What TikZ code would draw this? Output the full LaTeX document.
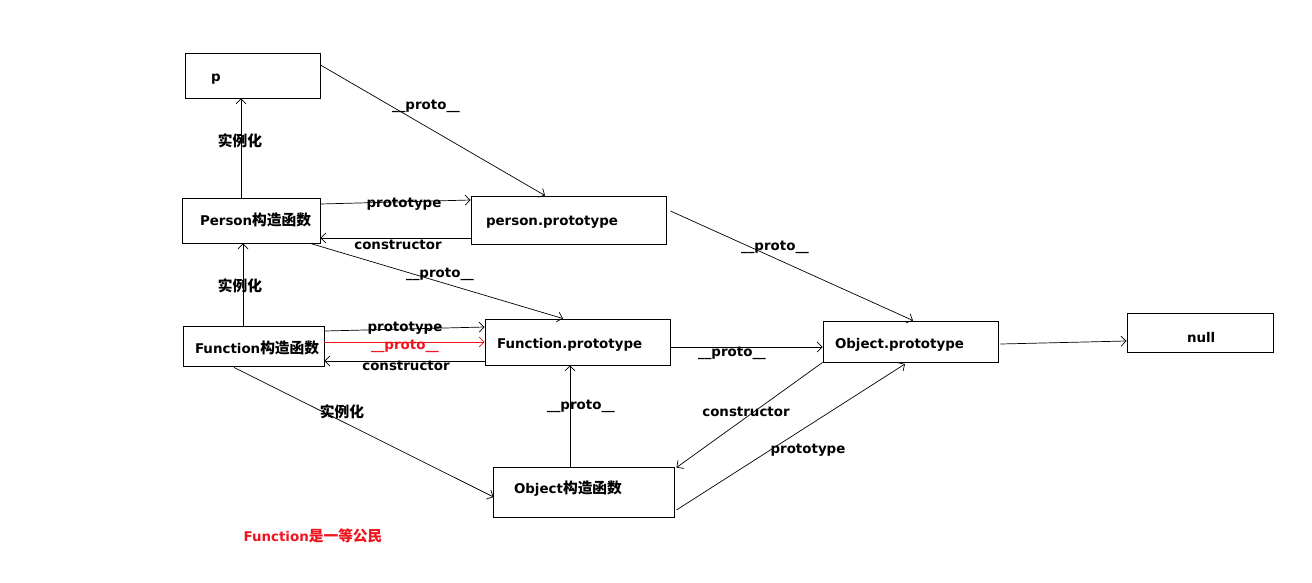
\documentclass[tikz,border=0pt]{standalone}
\usepackage{fontspec}
\setmainfont{DejaVu Sans}
\newfontfamily\cjk{Noto Sans CJK SC}[Scale=1.1]
\newcommand\zh[1]{{\cjk #1}}
\usetikzlibrary{arrows.meta,calc}
\definecolor{myred}{RGB}{240,20,30}
\tikzset{
  box/.style={draw, line width=0.9pt, align=left, inner ysep=0pt, text depth=0pt, font=\fontsize{13.4}{16}\selectfont\bfseries},
  link/.style={line width=0.7pt, -{Straight Barb[length=5pt,width=10pt]}},
  lbl/.style={inner sep=0pt, font=\fontsize{13.4}{16}\selectfont\bfseries},
}
\begin{document}
\begin{tikzpicture}[x=1pt,y=-1pt]
\useasboundingbox (0,0) rectangle (1312,582);
% boxes
\node[box, text width=83pt, inner xsep=26pt, minimum height=45pt, text height=11pt] (p) at (252.5,75.5) {p};
\node[box, text width=102pt, inner xsep=18pt, minimum height=45pt, text height=10.4pt] (per) at (251,220.5) {Person\zh{构造函数}};
\node[box, text width=165pt, inner xsep=15pt, minimum height=48pt, text height=11.4pt] (ppr) at (568.5,220) {person.prototype};
\node[box, text width=117pt, inner xsep=12pt, minimum height=40pt, text height=15.4pt] (fc) at (253.5,346) {Function\zh{构造函数}};
\node[box, text width=161pt, inner xsep=12pt, minimum height=46pt, text height=13.4pt] (fp) at (577.5,342) {Function.prototype};
\node[box, text width=151pt, inner xsep=12pt, minimum height=41pt, text height=13.6pt] (op) at (910.5,341.5) {Object.prototype};
\node[box, text width=26pt, inner xsep=60pt, minimum height=39pt, text height=19.6pt] (nul) at (1200,332.5) {null};
\node[box, text width=139pt, inner xsep=21pt, minimum height=50pt, text height=2.6pt] (oc) at (583.5,492) {Object\zh{构造函数}};
% connectors
\draw[link] ($(p.east)+(0,-10.5)$) -- ($(ppr.north)+(-23.5,0)$);
\draw[link] ($(per.north)+(-10,0)$) -- ($(p.south)+(-11.5,0)$);
\draw[link] ($(per.east)+(0,-16.5)$) -- ($(ppr.west)+(0,-20)$);
\draw[link] ($(ppr.west)+(0,18)$) -- ($(per.east)+(0,17.5)$);
\draw[link] ($(per.south east)+(-10,0)$) -- ($(fp.north)+(-14.5,0)$);
\draw[link] ($(fc.north)+(-10.5,0)$) -- ($(per.south)+(-8,0)$);
\draw[link] ($(fc.east)+(0,-15)$) -- ($(fp.west)+(0,-15)$);
\draw[link, myred] ($(fc.east)+(0,-4)$) -- (fp.west);
\draw[link] ($(fp.west)+(0,19)$) -- ($(fc.east)+(0,15)$);
\draw[link] ($(ppr.east)+(4,-9)$) -- ($(op.north)+(2.5,0)$);
\draw[link] ($(fp.east)+(0,5)$) -- ($(op.west)+(0,5.5)$);
\draw[link] ($(op.east)+(2,2.5)$) -- ($(nul.west)+(0,8.5)$);
\draw[link] ($(fc.south)+(-19.5,1)$) -- ($(oc.west)+(1,5)$);
\draw[link] ($(oc.north)+(-13.5,0)$) -- ($(fp.south)+(-7.5,0)$);
\draw[link] (op.south west) -- ($(oc.north east)+(2,1)$);
\draw[link] ($(oc.east)+(2,18)$) -- ($(op.south)+(-5.5,1.5)$);
% labels
\node[lbl] (l1) at (426,106) {\_\_proto\_\_};
\node[lbl] (l2) at (240,141) {\zh{实例化}};
\node[lbl] (l3) at (404,204) {prototype};
\node[lbl] (l4) at (398,245) {constructor};
\node[lbl] (l5) at (440,274) {\_\_proto\_\_};
\node[lbl] (l6) at (240,286) {\zh{实例化}};
\node[lbl] (l7) at (405,328) {prototype};
\node[lbl, text=myred] (l8) at (405,346) {\_\_proto\_\_};
\node[lbl] (l9) at (406,366) {constructor};
\node[lbl] (l10) at (775,247) {\_\_proto\_\_};
\node[lbl] (l11) at (732,353) {\_\_proto\_\_};
\node[lbl] (l12) at (342,412) {\zh{实例化}};
\node[lbl] (l13) at (581,406) {\_\_proto\_\_};
\node[lbl] (l14) at (746,412) {constructor};
\node[lbl] (l15) at (808,450) {prototype};
\node[lbl, text=myred] (l16) at (313,536) {Function\zh{是一等公民}};
\end{tikzpicture}
\end{document}
